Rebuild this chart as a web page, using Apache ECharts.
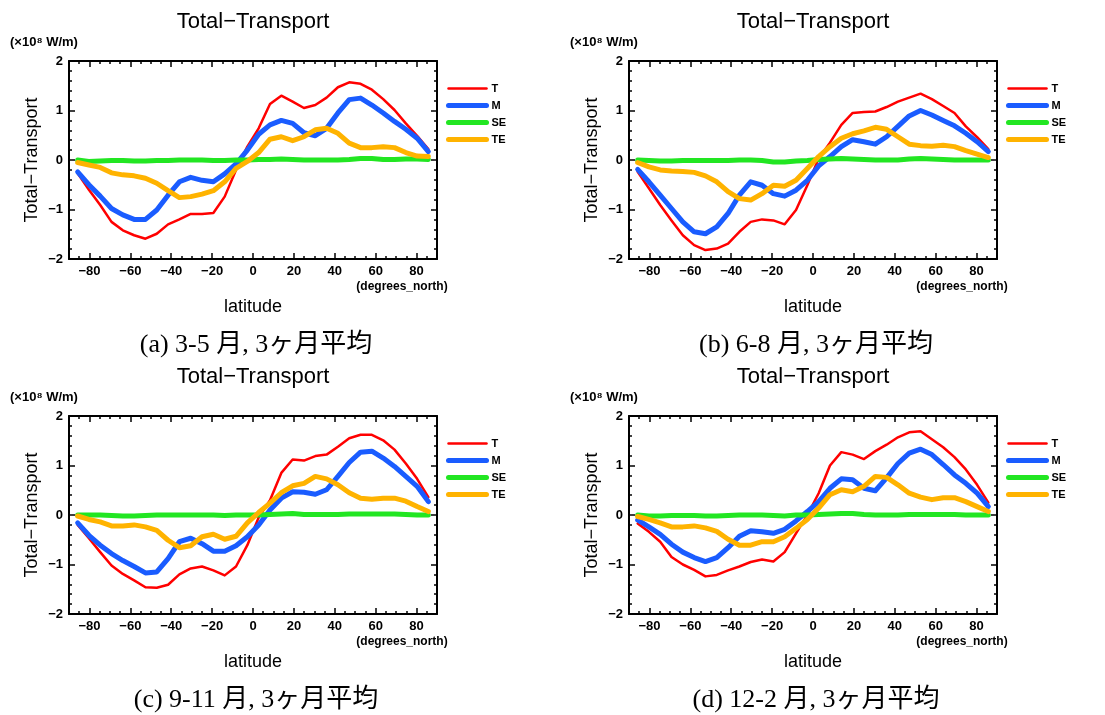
<!DOCTYPE html>
<html><head><meta charset="utf-8">
<script src="https://cdn.jsdelivr.net/npm/echarts@6/dist/echarts.min.js"></script>
<style>html,body{margin:0;padding:0;background:#fff}#c{width:1105px;height:715px}</style>
</head><body><div id="c"></div>
<script>
// latitude points (degrees_north)
const latitudes = [-85.76,-80.27,-74.74,-69.21,-63.68,-58.14,-52.61,-47.07,-41.54,-36.00,-30.47,-24.93,-19.39,-13.85,-8.31,-2.77,2.77,8.31,13.85,19.39,24.93,30.47,36.00,41.54,47.07,52.61,58.14,63.68,69.21,74.74,80.27,85.76];

// (a) 3-5
const T_a  = [-0.27,-0.60,-0.91,-1.25,-1.42,-1.52,-1.59,-1.49,-1.30,-1.20,-1.09,-1.09,-1.07,-0.74,-0.20,0.27,0.64,1.13,1.30,1.18,1.05,1.11,1.26,1.47,1.57,1.54,1.42,1.23,1.01,0.74,0.49,0.22];
const M_a  = [-0.24,-0.50,-0.73,-0.98,-1.11,-1.20,-1.20,-1.01,-0.71,-0.44,-0.35,-0.41,-0.44,-0.28,-0.08,0.20,0.52,0.71,0.80,0.74,0.55,0.49,0.64,0.95,1.22,1.25,1.11,0.95,0.78,0.62,0.44,0.17];
const SE_a = [0.00,-0.03,-0.02,-0.01,-0.01,-0.02,-0.02,-0.01,-0.01,0.00,0.00,0.00,-0.01,-0.01,0.00,0.00,0.01,0.01,0.02,0.01,0.00,0.00,0.00,0.00,0.01,0.03,0.03,0.01,0.01,0.02,0.02,0.01];
const TE_a = [-0.05,-0.10,-0.15,-0.26,-0.30,-0.32,-0.37,-0.47,-0.62,-0.76,-0.74,-0.69,-0.62,-0.44,-0.17,-0.03,0.15,0.42,0.47,0.39,0.47,0.61,0.64,0.54,0.34,0.25,0.25,0.27,0.25,0.15,0.08,0.07];

// (b) 6-8
const T_b  = [-0.24,-0.57,-0.91,-1.22,-1.52,-1.72,-1.82,-1.79,-1.69,-1.45,-1.25,-1.20,-1.22,-1.30,-1.01,-0.51,0.03,0.35,0.71,0.95,0.97,0.98,1.07,1.18,1.26,1.34,1.23,1.09,0.95,0.68,0.46,0.22];
const M_b  = [-0.19,-0.44,-0.71,-0.98,-1.25,-1.45,-1.49,-1.35,-1.08,-0.71,-0.44,-0.51,-0.68,-0.73,-0.61,-0.41,-0.12,0.07,0.27,0.41,0.37,0.32,0.47,0.68,0.89,1.00,0.91,0.80,0.69,0.54,0.37,0.17];
const SE_b = [0.00,-0.01,-0.02,-0.02,-0.01,-0.01,-0.01,-0.01,-0.01,0.00,0.00,-0.01,-0.04,-0.04,-0.02,-0.01,0.01,0.02,0.03,0.02,0.01,0.00,0.00,0.00,0.02,0.03,0.02,0.01,0.00,0.00,0.00,0.00];
const TE_b = [-0.05,-0.14,-0.20,-0.22,-0.23,-0.25,-0.32,-0.44,-0.64,-0.78,-0.81,-0.68,-0.51,-0.53,-0.41,-0.17,0.07,0.27,0.44,0.53,0.59,0.66,0.62,0.47,0.32,0.29,0.28,0.30,0.27,0.19,0.12,0.05];

// (c) 9-11
const T_c  = [-0.20,-0.47,-0.75,-1.02,-1.19,-1.32,-1.46,-1.47,-1.41,-1.20,-1.08,-1.04,-1.12,-1.22,-1.04,-0.61,-0.05,0.30,0.85,1.12,1.10,1.19,1.22,1.38,1.55,1.62,1.62,1.51,1.32,1.04,0.73,0.36];
const M_c  = [-0.16,-0.41,-0.61,-0.78,-0.92,-1.04,-1.17,-1.15,-0.88,-0.54,-0.47,-0.58,-0.73,-0.73,-0.62,-0.44,-0.20,0.10,0.34,0.47,0.46,0.42,0.51,0.78,1.06,1.27,1.29,1.15,0.98,0.78,0.58,0.27];
const SE_c = [0.00,0.00,0.00,-0.01,-0.02,-0.02,-0.01,0.00,0.00,0.00,0.00,0.00,0.00,-0.01,0.00,0.00,0.00,0.01,0.02,0.03,0.01,0.01,0.01,0.01,0.02,0.02,0.02,0.02,0.02,0.01,0.00,0.00];
const TE_c = [-0.02,-0.09,-0.14,-0.22,-0.22,-0.20,-0.24,-0.31,-0.51,-0.66,-0.62,-0.44,-0.39,-0.49,-0.43,-0.16,0.05,0.24,0.45,0.59,0.64,0.78,0.73,0.61,0.45,0.34,0.32,0.34,0.34,0.28,0.17,0.07];

// (d) 12-2
const T_d  = [-0.17,-0.34,-0.54,-0.85,-1.00,-1.11,-1.24,-1.21,-1.12,-1.04,-0.95,-0.90,-0.94,-0.75,-0.37,0.00,0.44,1.00,1.27,1.22,1.13,1.29,1.42,1.57,1.67,1.69,1.53,1.37,1.17,0.92,0.61,0.25];
const M_d  = [-0.10,-0.24,-0.39,-0.59,-0.75,-0.86,-0.94,-0.86,-0.66,-0.43,-0.32,-0.34,-0.37,-0.29,-0.12,0.07,0.27,0.54,0.73,0.71,0.54,0.49,0.75,1.04,1.25,1.33,1.22,1.02,0.81,0.64,0.44,0.17];
const SE_d = [0.00,-0.02,-0.02,-0.01,-0.01,-0.01,-0.02,-0.02,-0.01,0.00,0.00,0.00,-0.01,-0.02,0.00,0.00,0.01,0.02,0.03,0.03,0.01,0.00,0.00,0.00,0.01,0.01,0.01,0.01,0.01,0.00,0.00,0.00];
const TE_d = [-0.03,-0.09,-0.16,-0.24,-0.24,-0.22,-0.26,-0.33,-0.49,-0.61,-0.61,-0.54,-0.54,-0.44,-0.27,-0.09,0.14,0.41,0.51,0.47,0.58,0.78,0.76,0.61,0.44,0.36,0.31,0.35,0.35,0.27,0.17,0.07];

const xMajorTicks = [-80,-60,-40,-20,0,20,40,60,80];
const yMajorTicks = [-2,-1,0,1,2];
const seriesNames = ['T','M','SE','TE'];
const plotTitle = 'Total\u2212Transport';
const unitLabel = '(\u00d710\u2078 W/m)';
const xName = 'latitude';
const xUnit = '(degrees_north)';
const captions = ['(a) 3-5 月, 3ヶ月平均','(b) 6-8 月, 3ヶ月平均','(c) 9-11 月, 3ヶ月平均','(d) 12-2 月, 3ヶ月平均'];

const panels = [
  {T:T_a, M:M_a, SE:SE_a, TE:TE_a},
  {T:T_b, M:M_b, SE:SE_b, TE:TE_b},
  {T:T_c, M:M_c, SE:SE_c, TE:TE_c},
  {T:T_d, M:M_d, SE:SE_d, TE:TE_d}
];

const colors = {T:'#ff0000', M:'#1a5cff', SE:'#22e622', TE:'#ffb300'};
const widths = {T:2.5, M:5, SE:5, TE:5};
const offsets = [[0,0],[560,0],[0,355],[560,355]];
const SANS = "'Liberation Sans', Arial, sans-serif";
const SERIF = "'Liberation Serif', 'Noto Sans CJK JP', serif";
const minus = v => String(v).replace('-', '\u2212');

const grid = [], xAxis = [], yAxis = [], series = [], legend = [], graphic = [];
const axisLine = {show:true, onZero:false, lineStyle:{color:'#000', width:2}};
const noLine = {show:false, onZero:false};
const tickStyle = {color:'#000', width:1.5};

panels.forEach((p, i) => {
  const [dx, dy] = offsets[i];
  grid.push({left:69+dx, top:61+dy, width:368, height:198, containLabel:false, outerBoundsMode:'none'});
  // x axes: bottom major, bottom minor, top major, top minor
  xAxis.push({type:'value', gridIndex:i, position:'bottom', min:-90, max:90,
    axisLine, splitLine:{show:false},
    axisTick:{show:true, inside:true, length:6, customValues:xMajorTicks, lineStyle:tickStyle},
    axisLabel:{show:true, customValues:xMajorTicks, formatter:minus, fontFamily:SANS, fontWeight:'bold', fontSize:13, color:'#000', margin:6},
    name:xName, nameLocation:'middle', nameGap:39,
    nameTextStyle:{fontFamily:SANS, fontSize:18, color:'#000'}});
  xAxis.push({type:'value', gridIndex:i, position:'bottom', min:-90, max:90, interval:5,
    axisLine:noLine, splitLine:{show:false}, axisLabel:{show:false},
    axisTick:{show:true, inside:true, length:3, lineStyle:tickStyle}});
  xAxis.push({type:'value', gridIndex:i, position:'top', min:-90, max:90,
    axisLine, splitLine:{show:false}, axisLabel:{show:false},
    axisTick:{show:true, inside:true, length:6, customValues:xMajorTicks, lineStyle:tickStyle}});
  xAxis.push({type:'value', gridIndex:i, position:'top', min:-90, max:90, interval:5,
    axisLine:noLine, splitLine:{show:false}, axisLabel:{show:false},
    axisTick:{show:true, inside:true, length:3, lineStyle:tickStyle}});
  // y axes: left major, left minor, right major, right minor
  yAxis.push({type:'value', gridIndex:i, position:'left', min:-2, max:2,
    axisLine, splitLine:{show:false},
    axisTick:{show:true, inside:true, length:6, customValues:yMajorTicks, lineStyle:tickStyle},
    axisLabel:{show:true, customValues:yMajorTicks, formatter:minus, fontFamily:SANS, fontWeight:'bold', fontSize:13, color:'#000', margin:6},
    name:plotTitle, nameLocation:'middle', nameGap:28, nameRotate:90,
    nameTextStyle:{fontFamily:SANS, fontSize:18, color:'#000'}});
  yAxis.push({type:'value', gridIndex:i, position:'left', min:-2, max:2, interval:0.2,
    axisLine:noLine, splitLine:{show:false}, axisLabel:{show:false},
    axisTick:{show:true, inside:true, length:3, lineStyle:tickStyle}});
  yAxis.push({type:'value', gridIndex:i, position:'right', min:-2, max:2,
    axisLine, splitLine:{show:false}, axisLabel:{show:false},
    axisTick:{show:true, inside:true, length:6, customValues:yMajorTicks, lineStyle:tickStyle}});
  yAxis.push({type:'value', gridIndex:i, position:'right', min:-2, max:2, interval:0.2,
    axisLine:noLine, splitLine:{show:false}, axisLabel:{show:false},
    axisTick:{show:true, inside:true, length:3, lineStyle:tickStyle}});

  seriesNames.forEach(n => {
    series.push({type:'line', name:n, xAxisIndex:4*i, yAxisIndex:4*i,
      data: latitudes.map((x, k) => [x, p[n][k]]),
      symbol:'none', smooth:false, animation:false,
      color:colors[n],
      lineStyle:{color:colors[n], width:widths[n], join:'round', cap:'round'}});
  });

  legend.push({data:seriesNames, orient:'vertical', left:446+dx, top:83+dy, padding:0,
    itemWidth:38, itemHeight:8, itemGap:6, selectedMode:false,
    lineStyle:{width:'inherit'},
    itemStyle:{opacity:0},
    textStyle:{fontFamily:SANS, fontWeight:'bold', fontSize:11, color:'#000'}});

  graphic.push({type:'text', x:253+dx, y:22+dy, silent:true,
    style:{text:plotTitle, fontFamily:SANS, fontSize:22, fill:'#000', align:'center', verticalAlign:'middle'}});
  graphic.push({type:'text', x:10+dx, y:42+dy, silent:true,
    style:{text:unitLabel, fontFamily:SANS, fontWeight:'bold', fontSize:13, fill:'#000', align:'left', verticalAlign:'middle'}});
  graphic.push({type:'text', x:402+dx, y:287+dy, silent:true,
    style:{text:xUnit, fontFamily:SANS, fontWeight:'bold', fontSize:12, fill:'#000', align:'center', verticalAlign:'middle'}});
  graphic.push({type:'text', x:256+dx, y:345+dy, silent:true,
    style:{text:captions[i], fontFamily:SERIF, fontSize:26, fill:'#000', align:'center', verticalAlign:'middle'}});
});

const chart = echarts.init(document.getElementById('c'), null, {renderer:'canvas'});
chart.setOption({animation:false, backgroundColor:'#fff', grid, xAxis, yAxis, series, legend, graphic});
</script>
</body></html>
